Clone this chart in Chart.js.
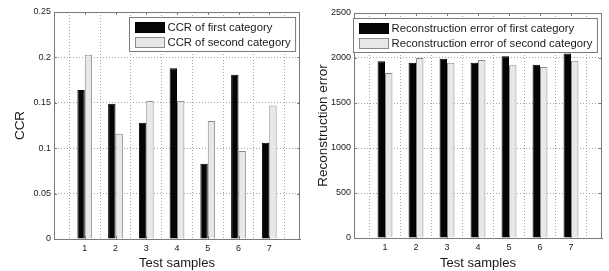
<!DOCTYPE html>
<html>
<head>
<meta charset="utf-8">
<script src="https://cdn.jsdelivr.net/npm/chart.js@4"></script>
<style>
	html, body { margin: 0; padding: 0; background: #fff; }
	#wrap { position: relative; width: 609px; height: 271px; }
	canvas { position: absolute; top: 0; }
</style>
</head>
<body>
<div id="wrap">
	<canvas id="bc-ccr" width="304" height="271" style="left:0"></canvas>
	<canvas id="bc-error" width="305" height="271" style="left:304px"></canvas>
</div>
<script>
// samples 1..7, axis runs from 0 to 8 like the matlab plot
const samples = ["1", "2", "3", "4", "5", "6", "7"];
const ccrFirst = [0.164, 0.149, 0.128, 0.188, 0.083, 0.181, 0.106];
const ccrSecond = [0.203, 0.116, 0.152, 0.152, 0.130, 0.097, 0.147];
const errFirst = [1965, 1948, 1993, 1948, 2020, 1926, 2050];
const errSecond = [1833, 2000, 1948, 1978, 1919, 1900, 1970];

const ccrTicks = [0, 0.05, 0.1, 0.15, 0.2, 0.25];
const errTicks = [0, 500, 1000, 1500, 2000, 2500];

const FONT = "'Liberation Sans', Arial, sans-serif";
const TEXT = "#1a1a1a";
const EDGE = "#7a7a7a";

let labels = ["0", ...samples, "8"];
const pad = (arr) => [null, ...arr, null];

// box, inward ticks and an inside legend, matlab style
const matlabBox = {
	id: "matlabBox",
	afterDatasetsDraw(chart) {
		let { ctx, chartArea: a, scales } = chart;
		ctx.save();
		ctx.strokeStyle = EDGE;
		ctx.lineWidth = 1;
		ctx.strokeRect(Math.round(a.left) + 0.5, Math.round(a.top) + 0.5,
			Math.round(a.right - a.left) - 1, Math.round(a.bottom - a.top));

		ctx.beginPath();
		for (let i = 1; i <= samples.length; i++) {
			let x = Math.round(scales.x.getPixelForValue(i)) + 0.5;
			ctx.moveTo(x, a.bottom); ctx.lineTo(x, a.bottom - 3);
			ctx.moveTo(x, a.top); ctx.lineTo(x, a.top + 3);
		}
		for (let t of scales.y.ticks) {
			let y = Math.round(scales.y.getPixelForValue(t.value)) + 0.5;
			ctx.moveTo(a.left, y); ctx.lineTo(a.left + 3, y);
			ctx.moveTo(a.right, y); ctx.lineTo(a.right - 3, y);
		}
		ctx.stroke();

		// legend
		let ds = chart.data.datasets;
		ctx.font = "11.3px " + FONT;
		let textW = Math.max(...ds.map((d) => ctx.measureText(d.label).width));
		let swW = 29, rowH = 15;
		let boxW = 6 + swW + 3 + textW + 5;
		let boxH = rowH * ds.length + 4;
		let bx = Math.round(a.right - 5 - boxW) + 0.5;
		let by = Math.round(a.top + 5) + 0.5;
		ctx.fillStyle = "#fff";
		ctx.fillRect(bx, by, boxW, boxH);
		ctx.strokeStyle = EDGE;
		ctx.strokeRect(bx, by, boxW, boxH);
		ds.forEach((d, idx) => {
			let cy = by + 2 + rowH * idx + rowH / 2;
			ctx.fillStyle = d.backgroundColor;
			ctx.fillRect(bx + 6, cy - 5, swW, 10);
			ctx.strokeStyle = d.borderColor;
			ctx.strokeRect(bx + 6, Math.round(cy - 5) + 0.5, swW, 10);
			ctx.fillStyle = TEXT;
			ctx.textBaseline = "middle";
			ctx.fillText(d.label, bx + 6 + swW + 3, cy + 0.5);
		});
		ctx.restore();
	},
};

function buildChart(id, opts) {
	let ctx = document.getElementById(id).getContext("2d");
	return new Chart(ctx, {
		type: "bar",
		data: {
			labels: labels,
			datasets: [
				{
					label: opts.names[0],
					data: pad(opts.first),
					backgroundColor: "#050505",
					borderColor: "#000",
					borderWidth: 1,
				},
				{
					label: opts.names[1],
					data: pad(opts.second),
					backgroundColor: "#e8e8e8",
					borderColor: "#8a8a8a",
					borderWidth: 1,
				},
			],
		},
		options: {
			responsive: false,
			animation: false,
			devicePixelRatio: 1,
			datasets: { bar: { categoryPercentage: 0.48, barPercentage: 1 } },
			layout: { padding: { top: opts.top, right: opts.right, left: 0, bottom: 0 } },
			plugins: {
				legend: { display: false },
				tooltip: { enabled: false },
			},
			scales: {
				x: {
					type: "category",
					offset: false,
					grid: { color: "#a5a5a5", drawTicks: false },
					border: { display: true, color: EDGE, dash: [1, 2] },
					ticks: {
						color: TEXT,
						font: { family: FONT, size: 9 },
						padding: 4,
						maxRotation: 0,
						autoSkip: false,
						callback: (v, i) => (i === 0 || i === labels.length - 1 ? "" : labels[i]),
					},
					title: {
						display: true,
						text: "Test samples",
						color: TEXT,
						font: { family: FONT, size: 13 },
						padding: { top: 0, bottom: 0 },
					},
					afterFit: (scale) => { scale.height = opts.xh; },
				},
				y: {
					min: opts.ticks[0],
					max: opts.ticks[opts.ticks.length - 1],
					afterBuildTicks: (scale) => {
						scale.ticks = opts.ticks.map((v) => ({ value: v }));
					},
					grid: { color: "#a5a5a5", drawTicks: false },
					border: { display: true, color: EDGE, dash: [1, 2] },
					ticks: {
						color: TEXT,
						font: { family: FONT, size: 9 },
						padding: 3,
						callback: (v) => String(v),
					},
					title: {
						display: true,
						text: opts.yTitle,
						color: TEXT,
						font: { family: FONT, size: 13.5 },
						padding: { top: opts.titlePad, bottom: 0 },
					},
					afterFit: (scale) => { scale.width = opts.yw; },
				},
			},
		},
		plugins: [matlabBox],
	});
}

buildChart("bc-ccr", {
	names: ["CCR of first category", "CCR of second category"],
	first: ccrFirst,
	second: ccrSecond,
	ticks: ccrTicks,
	yTitle: "CCR",
	top: 12, right: 4, xh: 32, yw: 54, titlePad: 12,
});

buildChart("bc-error", {
	names: ["Reconstruction error of first category", "Reconstruction error of second category"],
	first: errFirst,
	second: errSecond,
	ticks: errTicks,
	yTitle: "Reconstruction error",
	top: 13, right: 7, xh: 33, yw: 50, titlePad: 11,
});
</script>
</body>
</html>
